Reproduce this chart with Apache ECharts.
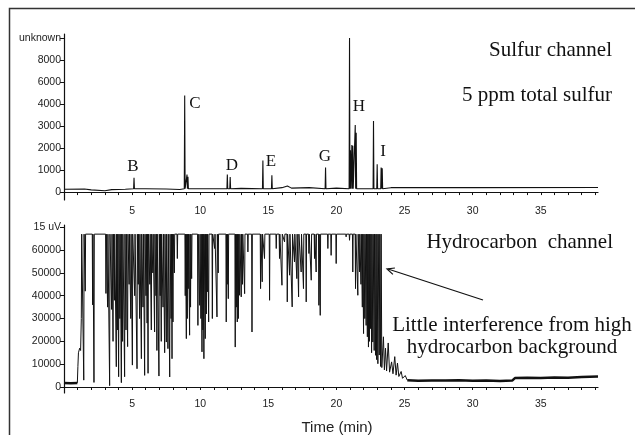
<!DOCTYPE html>
<html>
<head>
<meta charset="utf-8">
<script src="https://cdn.jsdelivr.net/npm/echarts@6/dist/echarts.min.js"></script>
<style>
  html, body { margin: 0; padding: 0; background: #fff; }
  #chart { width: 635px; height: 435px; }
</style>
</head>
<body>
<div id="chart"></div>
<script>
// ---- sulfur channel ----
// the y axis of the original is not linear: ticks are evenly spaced
const sulfurTickValues = [0, 1000, 2000, 3000, 4000, 6000, 8000, 10000];
const sulfurTickLabels = ['0', '1000', '2000', '3000', '4000', '6000', '8000', 'unknown'];
const sulfurBaseline = [
  [0, 130], [1.5, 140], [2, 100], [3, 60], [3.5, 110], [4.5, 130], [6, 150],
  [7.5, 140], [8.5, 120], [10, 150], [13, 170], [16, 200], [16.4, 280], [16.7, 180],
  [18, 200], [20, 180], [24, 200], [30, 200], [39.2, 210]
];
const sulfurPeakTime  = [5.14, 8.86, 9.03, 9.1, 11.99, 12.2, 14.6, 15.26, 19.2, 20.96, 21.03, 21.13, 21.2, 21.38, 21.45, 22.72, 22.99, 23.28, 23.36];
const sulfurPeakValue = [650, 4770, 800, 700, 800, 680, 1430, 760, 1120, 10000, 1900, 2140, 2100, 3050, 2700, 3230, 1260, 1120, 1080];
const sulfurPeakBase = 150;

// ---- hydrocarbon channel ----
const hcTickValues = [0, 10000, 20000, 30000, 40000, 50000, 60000, 70000];
const hcTickLabels = ['0', '10000', '20000', '30000', '40000', '50000', '60000', '15 uV'];
const hcSaturation = 67000;
const hcLead = [[0, 1800], [0.5, 1600], [0.98, 1800]];
const hcRise = [[0.98, 1800], [1.02, 9000], [1.06, 15000], [1.15, 17000], [1.22, 16000], [1.27, 30000], [1.3, 67000]];
const hcDipTime = [
  1.45, 1.56, 2.1, 2.2, 3.08, 3.2, 3.35, 3.5, 3.6, 3.7, 3.84, 3.92, 4.01, 4.1, 4.21, 4.3, 4.45, 4.55, 4.67, 4.78,
  4.9, 5.02, 5.19, 5.36, 5.45, 5.55, 5.68, 5.8, 5.92, 6.02, 6.1, 6.17, 6.3, 6.41, 6.52, 6.65, 6.75, 6.82, 6.97, 7.06,
  7.14, 7.27, 7.39, 7.51, 7.63, 7.76, 7.86, 7.93, 8.0, 8.1, 8.32, 8.9, 8.98, 9.05, 9.12, 9.22, 9.29, 9.37, 9.83, 9.96,
  10.05, 10.13, 10.2, 10.27, 10.37, 10.45, 10.52, 10.62, 10.89, 11.06, 11.23, 11.32, 11.91, 11.98, 12.06, 12.57, 12.65, 12.72, 12.8, 12.89,
  13.01, 13.1, 13.26, 13.5, 13.8, 14.43, 14.55, 14.72, 15.09, 15.58, 15.82, 16.0, 16.19, 16.39, 16.56, 16.75, 16.92, 17.09, 17.22, 17.41,
  17.58, 17.78, 17.98, 18.15, 18.39, 18.51, 18.71, 18.81, 19.37, 19.61, 19.98, 20.71, 20.96, 21.2, 21.4, 21.57, 21.69, 21.8, 21.9, 21.99,
  22.08, 22.18, 22.27, 22.35, 22.42, 22.5, 22.58, 22.67, 22.77, 22.87, 22.95, 23.04
];
const hcDipValue = [
  3000, 42000, 36000, 2000, 41000, 35000, 600, 34000, 20000, 38000, 8900, 25000, 4500, 30000, 1900, 20000, 4500, 25000, 17700, 45000,
  30000, 9600, 40000, 8000, 45000, 30000, 12400, 35000, 5100, 40000, 28000, 6000, 45000, 25000, 50000, 24100, 40000, 16000, 4800, 40000,
  20000, 35000, 15000, 19700, 16800, 4400, 30000, 12400, 28500, 50000, 56300, 40000, 21200, 30000, 43100, 22700, 35000, 47500, 27000, 35800,
  30000, 15400, 25000, 12400, 21200, 32000, 41700, 28500, 30000, 60700, 30700, 50000, 28500, 45000, 38700, 17500, 35000, 28500, 30000, 40200,
  39500, 45000, 40900, 59200, 24100, 43100, 46100, 56300, 38000, 60700, 56300, 44600, 63600, 37300, 49000, 35100, 54800, 47500, 39500, 50400,
  43100, 37300, 58500, 46800, 56300, 50400, 35800, 31400, 60700, 57700, 54100, 65800, 64300, 50400, 43100, 40200, 50400, 45000, 35000, 23400,
  30000, 27000, 22000, 17500, 20000, 25600, 15000, 19700, 16000, 13900, 12000, 10200
];
const hcDecay = [
  [23.1, 67000], [23.14, 14000], [23.18, 67000], [23.24, 9000], [23.28, 67000], [23.33, 8500], [23.45, 22000],
  [23.52, 7500], [23.6, 17000], [23.68, 7000], [23.8, 19300], [23.9, 6500], [24.05, 11000], [24.15, 5800],
  [24.28, 13300], [24.38, 5200], [24.48, 10500], [24.58, 4600], [24.75, 6800], [24.85, 3800], [25.05, 5000], [25.2, 3000]
];
const hcBaseline = [
  [25.2, 3000], [26, 2700], [27, 2900], [28, 2800], [29, 3000], [30, 2700], [31, 2800], [32, 2600], [32.9, 2800],
  [33.1, 3900], [34, 4000], [35, 3900], [36, 4200], [37, 4100], [38, 4400], [39.2, 4600]
];

const timeLabels = [5, 10, 15, 20, 25, 30, 35];
const minuteTicks = [];
for (let m = 1; m <= 39; m++) minuteTicks.push(m);

// map a sulfur value onto the evenly spaced tick positions of the original axis
function sulfurPos(v) {
  for (let i = 0; i < sulfurTickValues.length - 1; i++) {
    if (v <= sulfurTickValues[i + 1]) {
      return i + (v - sulfurTickValues[i]) / (sulfurTickValues[i + 1] - sulfurTickValues[i]);
    }
  }
  return sulfurTickValues.length - 1;
}

const peakHalfWidth = 0.03;
let sulfurPoints = sulfurBaseline.slice();
sulfurPeakTime.forEach((t, i) => {
  sulfurPoints.push([t - peakHalfWidth, sulfurPeakBase], [t, sulfurPeakValue[i]], [t + peakHalfWidth, sulfurPeakBase]);
});
sulfurPoints.sort((a, b) => a[0] - b[0]);
const sulfurData = sulfurPoints.map(p => [p[0], sulfurPos(p[1])]);

const dipHalfWidth = 0.025;
const hcMain = hcRise.slice();
hcDipTime.forEach((t, i) => {
  hcMain.push([t - dipHalfWidth, hcSaturation], [t, hcDipValue[i]], [t + dipHalfWidth, hcSaturation]);
});
hcDecay.forEach(p => hcMain.push(p));

const SANS = '"Liberation Sans Narrow", "Liberation Sans", Arial, sans-serif';
const SERIF = '"Liberation Serif", "Times New Roman", serif';
const INK = '#111';

function xAxisFor(idx) {
  return {
    type: 'value', gridIndex: idx, min: 0, max: 39.2,
    axisLine: { lineStyle: { color: INK, width: 1.2 } },
    axisTick: { customValues: minuteTicks, length: 3, lineStyle: { color: INK } },
    axisLabel: { customValues: timeLabels, color: '#222', fontSize: 10.5, fontFamily: SANS, margin: 6 },
    splitLine: { show: false }
  };
}

const chart = echarts.init(document.getElementById('chart'));
chart.setOption({
  animation: false,
  backgroundColor: '#fff',
  grid: [
    { left: 64, top: 34, width: 534, height: 166, outerBoundsMode: 'none' },
    { left: 64, top: 225, width: 534, height: 168, outerBoundsMode: 'none' }
  ],
  xAxis: [xAxisFor(0), xAxisFor(1)],
  yAxis: [
    {
      type: 'value', gridIndex: 0, min: -0.36, max: 7.18,
      axisLine: { show: true, lineStyle: { color: INK, width: 1.2 } },
      axisTick: { show: true, customValues: [0, 1, 2, 3, 4, 5, 6, 7], length: 4, lineStyle: { color: INK } },
      axisLabel: {
        customValues: [0, 1, 2, 3, 4, 5, 6, 7], color: '#222', fontSize: 10.5, fontFamily: SANS, margin: 3,
        formatter: v => sulfurTickLabels[Math.round(v)]
      },
      splitLine: { show: false }
    },
    {
      type: 'value', gridIndex: 1, min: -2630, max: 71000,
      axisLine: { show: true, lineStyle: { color: INK, width: 1.2 } },
      axisTick: { show: true, customValues: hcTickValues, length: 4, lineStyle: { color: INK } },
      axisLabel: {
        customValues: hcTickValues, color: '#222', fontSize: 10.5, fontFamily: SANS, margin: 3,
        formatter: v => hcTickLabels[hcTickValues.indexOf(v)]
      },
      splitLine: { show: false }
    }
  ],
  series: [
    {
      name: 'Sulfur', type: 'line', xAxisIndex: 0, yAxisIndex: 0, data: sulfurData,
      showSymbol: false, lineStyle: { color: INK, width: 1.1 }
    },
    {
      name: 'HC lead', type: 'line', xAxisIndex: 1, yAxisIndex: 1, data: hcLead,
      showSymbol: false, lineStyle: { color: INK, width: 2.5 }
    },
    {
      name: 'Hydrocarbon', type: 'line', xAxisIndex: 1, yAxisIndex: 1, data: hcMain,
      showSymbol: false, lineStyle: { color: INK, width: 1 }
    },
    {
      name: 'HC baseline', type: 'line', xAxisIndex: 1, yAxisIndex: 1, data: hcBaseline,
      showSymbol: false, lineStyle: { color: INK, width: 2.5 }
    }
  ],
  graphic: [
    { type: 'rect', shape: { x: 9.5, y: 8.5, width: 700, height: 500 }, style: { fill: 'none', stroke: '#333', lineWidth: 1.5 }, silent: true },
    { type: 'text', x: 612, y: 50, style: { text: 'Sulfur channel', font: '21px ' + SERIF, fill: INK, align: 'right', verticalAlign: 'middle' } },
    { type: 'text', x: 612, y: 95, style: { text: '5 ppm total sulfur', font: '21px ' + SERIF, fill: INK, align: 'right', verticalAlign: 'middle' } },
    { type: 'text', x: 133, y: 167, style: { text: 'B', font: '17px ' + SERIF, fill: INK, align: 'center', verticalAlign: 'middle' } },
    { type: 'text', x: 195, y: 104, style: { text: 'C', font: '17px ' + SERIF, fill: INK, align: 'center', verticalAlign: 'middle' } },
    { type: 'text', x: 232, y: 166, style: { text: 'D', font: '17px ' + SERIF, fill: INK, align: 'center', verticalAlign: 'middle' } },
    { type: 'text', x: 271, y: 162, style: { text: 'E', font: '17px ' + SERIF, fill: INK, align: 'center', verticalAlign: 'middle' } },
    { type: 'text', x: 325, y: 157, style: { text: 'G', font: '17px ' + SERIF, fill: INK, align: 'center', verticalAlign: 'middle' } },
    { type: 'text', x: 359, y: 107, style: { text: 'H', font: '17px ' + SERIF, fill: INK, align: 'center', verticalAlign: 'middle' } },
    { type: 'text', x: 383, y: 152, style: { text: 'I', font: '17px ' + SERIF, fill: INK, align: 'center', verticalAlign: 'middle' } },
    { type: 'text', x: 613, y: 242, style: { text: 'Hydrocarbon  channel', font: '21px ' + SERIF, fill: INK, align: 'right', verticalAlign: 'middle' } },
    { type: 'text', x: 512, y: 325, style: { text: 'Little interference from high', font: '21px ' + SERIF, fill: INK, align: 'center', verticalAlign: 'middle' } },
    { type: 'text', x: 512, y: 347, style: { text: 'hydrocarbon background', font: '21px ' + SERIF, fill: INK, align: 'center', verticalAlign: 'middle' } },
    { type: 'line', shape: { x1: 483, y1: 300, x2: 388, y2: 269 }, style: { stroke: INK, lineWidth: 1.2 } },
    { type: 'polyline', shape: { points: [[392.9, 274.4], [387, 269], [394.9, 268]] }, style: { stroke: INK, lineWidth: 1.2, fill: 'none' } },
    { type: 'text', x: 337, y: 428, style: { text: 'Time (min)', font: '15px ' + SANS, fill: '#222', align: 'center', verticalAlign: 'middle' } }
  ]
});
</script>
</body>
</html>
